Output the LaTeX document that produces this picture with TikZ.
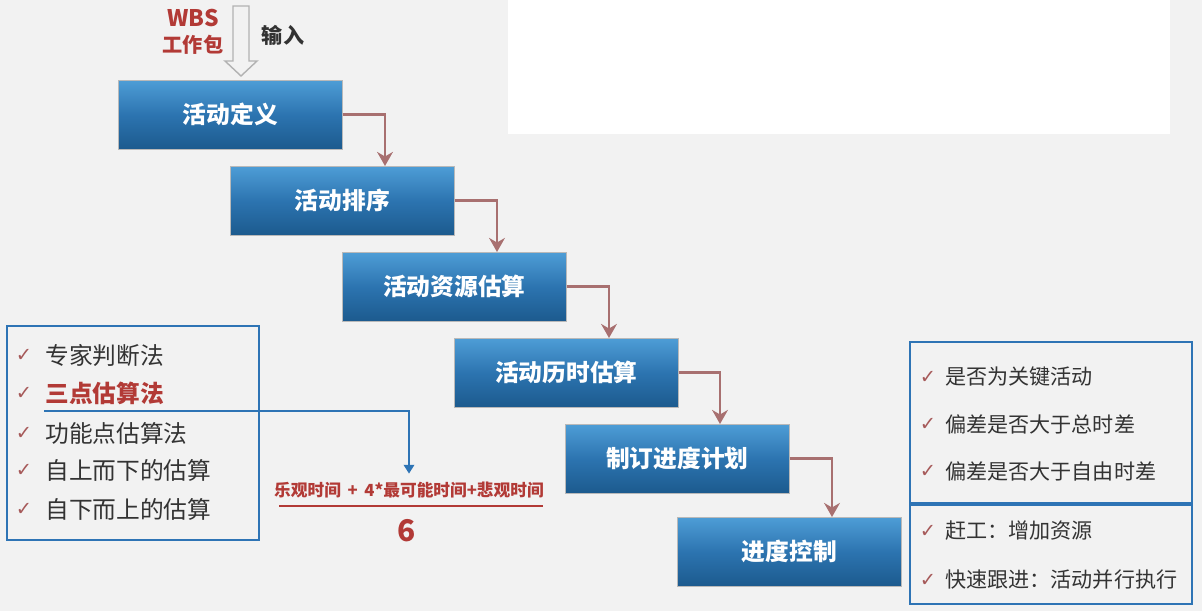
\documentclass[tikz,border=0pt]{standalone}
\usepackage{fontspec}
\setmainfont{Noto Sans CJK SC}
\newfontfamily\symfont{DejaVu Sans}
\usetikzlibrary{arrows.meta,calc}
\definecolor{bg}{HTML}{F2F2F2}
\definecolor{boxtop}{HTML}{4E9DD6}
\definecolor{boxmid}{HTML}{2C74B0}
\definecolor{boxbot}{HTML}{1C5A8E}
\definecolor{framecol}{HTML}{2E74B5}
\definecolor{hotred}{HTML}{B23A36}
\definecolor{flowcol}{HTML}{A87070}
\definecolor{txt}{HTML}{333333}
\tikzset{
  procbox/.style={anchor=north west, minimum width=4.48cm, minimum height=1.38cm, inner sep=0pt,
    draw=gray!55, top color=boxtop, bottom color=boxbot, middle color=boxmid,
    text=white, font=\bfseries\fontsize{13.5}{15}\selectfont},
  flow/.style={draw=flowcol, line width=1.6pt, -{Stealth[length=8pt,width=9pt]}},
  link/.style={draw=framecol, line width=1pt, -{Triangle[length=5pt,width=6pt]}},
  chk/.style={text=gray!70!red, font=\symfont\fontsize{11}{11}\selectfont},
  item/.style={anchor=west, inner sep=0pt, text=txt},
}
\begin{document}
\begin{tikzpicture}[x=0.02cm, y=-0.02cm]
\useasboundingbox (0,0) rectangle (1202,611);
\fill[bg] (0,0) rectangle (1202,611);
\fill[white] (508,0) rectangle (1170,134);
% input
\draw[gray!60, line width=0.8pt, fill=bg] (233,6) -- (249,6) -- (249,61) -- (257,61) -- (241,76)
  -- (225,61) -- (233,61) -- cycle;
\node[text=hotred, font=\bfseries\fontsize{13}{13}\selectfont] (wbs) at (193,18) {WBS};
\node[text=hotred, font=\bfseries\fontsize{11.5}{12}\selectfont] (pkg) at (193,45) {工作包};
\node[text=txt, font=\bfseries\fontsize{12}{12}\selectfont] (inp) at (283,35) {输入};
% process steps
\node[procbox] (def)  at (118,80)  {活动定义};
\node[procbox] (seq)  at (230,166) {活动排序};
\node[procbox] (res)  at (342,252) {活动资源估算};
\node[procbox] (dur)  at (454,338) {活动历时估算};
\node[procbox] (plan) at (565,424) {制订进度计划};
\node[procbox] (ctrl) at (677,517) {进度控制};
\foreach \a/\b in {def/seq,seq/res,res/dur,dur/plan,plan/ctrl}
  {\draw[flow] (\a.east) -| ($(\b.north west)+(155,0)$);}
% estimation methods
\draw[framecol, line width=1.2pt] (7,326) rectangle (259,540);
\foreach \t/\y [count=\i] in {专家判断法/355,功能点估算法/433,自上而下的估算/470,自下而上的估算/509}
  {\node[item, font=\fontsize{13.5}{15}\selectfont] (m\i) at (45,\y) {\t};}
\node[item, text=hotred, font=\bfseries\fontsize{13.5}{15}\selectfont] (tpt) at (45,393) {三点估算法};
\foreach \y in {355,393,433,470,509}
  {\node[chk] at (24,\y) {✓};}
% three point formula
\node[text=hotred, font=\bfseries\fontsize{9.5}{11}\selectfont, inner ysep=0.16cm] (frac) at (409,490)
  {乐观时间 \,+\, 4*最可能时间+悲观时间};
\draw[hotred, line width=1.2pt] (279,506) -- (543,506);
\node[text=hotred, font=\bfseries\fontsize{17}{17}\selectfont] (six) at (407,531) {6};
\coordinate (ul) at (44,411);
\draw[link] (ul) -| (frac.north);
% control checks
\draw[framecol, line width=1.2pt] (910,342) rectangle (1192,604);
\draw[framecol, line width=2pt] (910,504) -- (1192,504);
\foreach \t/\y [count=\i] in {是否为关键活动/377,偏差是否大于总时差/424,偏差是否大于自由时差/471,
    赶工：增加资源/531,快速跟进：活动并行执行/580}
  {\node[item, font=\fontsize{12}{14}\selectfont] (c\i) at (945,\y) {\t};
   \node[chk] at (928,\y) {✓};}
\end{tikzpicture}
\end{document}
